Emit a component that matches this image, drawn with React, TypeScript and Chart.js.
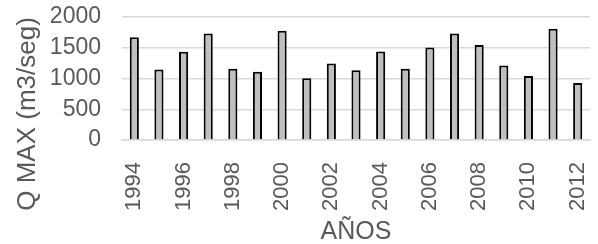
import React, { useEffect, useRef } from "react";
import { Chart, registerables } from "chart.js";
Chart.register(...registerables);

const years = ["1994","1995","1996","1997","1998","1999","2000","2001","2002","2003","2004","2005","2006","2007","2008","2009","2010","2011","2012"];
const qmax = [1670, 1145, 1435, 1730, 1160, 1110, 1775, 1005, 1245, 1135, 1440, 1160, 1505, 1730, 1545, 1210, 1040, 1810, 925];
const yTicks = [0, 500, 1000, 1500, 2000];
const yTitle = "Q MAX (m3/seg)";
const xTitle = "AÑOS";

const font = "'Liberation Sans', Arial, sans-serif";

const yTitlePlugin = {
  id: "yTitlePlugin",
  afterDraw(chart: any) {
    const ctx = chart.ctx;
    ctx.save();
    ctx.translate(28, 114);
    ctx.rotate(-Math.PI / 2);
    ctx.font = `26px ${font}`;
    ctx.fillStyle = "#595959";
    ctx.textAlign = "center";
    ctx.textBaseline = "middle";
    ctx.fillText(yTitle, 0, 0);
    ctx.restore();
  },
};

export default function App() {
  const ref = useRef<HTMLCanvasElement>(null);
  useEffect(() => {
    if (!ref.current) return;
    const chart = new Chart(ref.current, {
      type: "bar",
      data: {
        labels: years,
        datasets: [{
          data: qmax,
          backgroundColor: "#BFBFBF",
          borderColor: "#000000",
          borderWidth: 2,
          barPercentage: 0.37,
          categoryPercentage: 1,
        }],
      },
      options: {
        animation: false,
        responsive: false,
        maintainAspectRatio: false,
        layout: { padding: { top: 17, right: 8, left: 40, bottom: 0 } },
        plugins: { legend: { display: false }, tooltip: { enabled: false } },
        scales: {
          x: {
            grid: { display: false },
            border: { display: true, color: "#D9D9D9", width: 1.5 },
            afterFit: (axis: any) => { axis.height = 104; axis.paddingLeft = 0; axis.paddingRight = 0; },
            ticks: {
              autoSkip: false,
              minRotation: 90,
              maxRotation: 90,
              color: "#595959",
              font: { family: font, size: 22 },
              padding: 14,
              callback: (_v: any, i: number) => (i % 2 === 0 ? years[i] : ""),
            },
            title: { display: true, text: xTitle, color: "#595959", font: { family: font, size: 25 }, padding: { top: 0, bottom: -3 } },
          },
          y: {
            min: 0,
            max: 2000,
            afterBuildTicks: (axis: any) => { axis.ticks = yTicks.map((v) => ({ value: v })); },
            afterFit: (axis: any) => { axis.width = 82; axis.paddingTop = 0; axis.paddingBottom = 0; },
            grid: { color: "#D9D9D9", lineWidth: 1.5, drawTicks: false },
            border: { display: false },
            ticks: {
              autoSkip: false,
              color: "#595959",
              font: { family: font, size: 23 },
              padding: 21,
              callback: (v: any) => String(v),
            },
          },
        },
      },
      plugins: [yTitlePlugin],
    });
    return () => chart.destroy();
  }, []);
  return (
    <div style={{ position: "absolute", left: 0, top: 0, width: 598, height: 244, background: "#fff" }}>
      <canvas ref={ref} width={598} height={244} style={{ display: "block" }} />
    </div>
  );
}
